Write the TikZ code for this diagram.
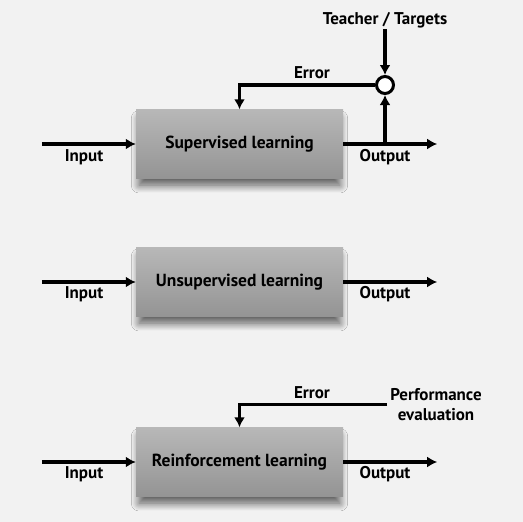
\documentclass[tikz,border=0pt]{standalone}
\usepackage{fontspec}
\setmainfont{PT Sans}
\usetikzlibrary{arrows.meta,positioning,shadows.blur}
\tikzstyle{blk}=[rectangle, minimum width=207pt, minimum height=69pt, top color=black!28, bottom color=black!42, font=\fontsize{17.5}{21}\selectfont\bfseries, blur shadow={shadow xshift=0pt, shadow yshift=-8pt, shadow scale=0.97, shadow blur steps=16, shadow blur radius=8pt, shadow opacity=65}]
\tikzstyle{lbl}=[inner sep=1pt]
\tikzstyle{sum}=[circle, draw=black, fill=white, line width=3pt, minimum size=17pt, inner sep=0pt]
\tikzstyle{flow}=[->, line width=3.2pt]

\begin{document}
\begin{tikzpicture}[x=1pt, y=-1pt, >={Latex[length=10pt,width=11pt]}, font=\fontsize{17}{20}\selectfont\bfseries]
  \fill[black!5] (0,0) rectangle (523,522);
%
  \node[blk] (sup) at (239.5,144) {Supervised learning};
  \coordinate[left=94pt of sup.west] (supin);
  \coordinate[right=94pt of sup.east] (supout);
  \node[lbl] (supinl) at (84,157) {Input};
  \node[lbl] (supoutl) at (385,157) {Output};
  \node[sum] (cmp) at (385,85) {};
  \node[lbl] (teach) at (385,20) {Teacher / Targets};
  \node[lbl] (superr) at (312,73) {Error};
%
  \path[flow]
  (supin) edge (sup.west)
  (sup.east) edge (supout)
  (cmp |- sup.east) edge (cmp)
  (teach) edge (cmp);
  \draw[flow] (cmp.west) -| (sup.north);
%
  \node[blk] (uns) at (239.5,282) {Unsupervised learning};
  \coordinate[left=94pt of uns.west] (unsin);
  \coordinate[right=94pt of uns.east] (unsout);
  \node[lbl] (unsinl) at (84,294) {Input};
  \node[lbl] (unsoutl) at (385,294) {Output};
%
  \path[flow]
  (unsin) edge (uns.west)
  (uns.east) edge (unsout);
%
  \node[blk] (rl) at (239.5,462) {Reinforcement learning};
  \coordinate[left=94pt of rl.west] (rlin);
  \coordinate[right=94pt of rl.east] (rlout);
  \node[lbl] (rlinl) at (84,474) {Input};
  \node[lbl] (rloutl) at (385,474) {Output};
  \node[lbl, inner sep=3pt, align=center] (perf) at (436,404.5) {Performance\\evaluation};
  \node[lbl] (rlerr) at (312,393) {Error};
%
  \path[flow]
  (rlin) edge (rl.west)
  (rl.east) edge (rlout);
  \draw[flow] (perf.west) -| (rl.north);
\end{tikzpicture}
\end{document}
